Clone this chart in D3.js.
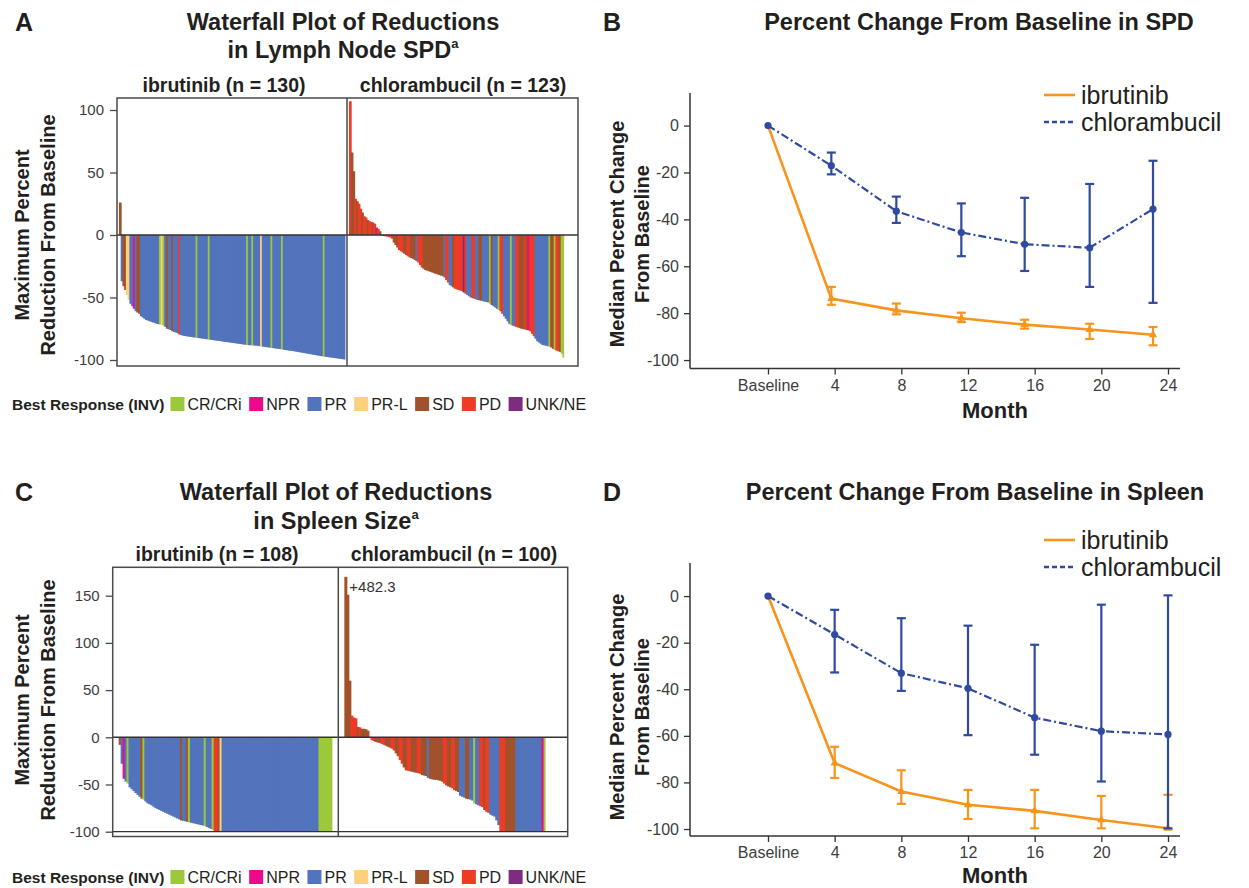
<!DOCTYPE html>
<html>
<head>
<meta charset="utf-8">
<script src="https://cdn.jsdelivr.net/npm/d3@7"></script>
<style>
  body { margin: 0; background: #ffffff; }
  svg { display: block; font-family: "Liberation Sans", Arial, Helvetica, sans-serif; }
</style>
</head>
<body>
<svg id="fig" width="1249" height="888"></svg>
<script>
// ---------------- Response categories ----------------
const responseKeys   = ["C", "N", "P", "L", "S", "D", "U"];
const responseLabels = ["CR/CRi", "NPR", "PR", "PR-L", "SD", "PD", "UNK/NE"];
const responseColors = ["#9cc83b", "#ec0a8b", "#5274bc", "#fdd07e", "#a1522a", "#ee3b25", "#7d2c80"];

// ---------------- Lymph node SPD, maximum % change (sorted) ----------------
const nodeIbrValues = [
  26,-37,-41,-44,-48,-52,-55,-57,-59,-61,
  -62,-63,-65,-66,-67,-68,-68.5,-69,-69.5,-70,
  -70.5,-71,-71.3,-71.6,-72,-72.5,-73.5,-75,-75.5,-76,
  -77,-77.5,-78,-78.5,-79.5,-80,-80.5,-80.8,-81,-81.2,
  -81.4,-81.6,-81.8,-82,-82.2,-82.4,-82.6,-82.8,-83,-83.2,
  -83.4,-83.6,-83.8,-84,-84.2,-84.4,-84.6,-84.8,-85,-85.2,
  -85.4,-85.6,-85.8,-86,-86.2,-86.4,-86.6,-86.8,-87,-87.2,
  -87.4,-87.6,-87.8,-88,-88.1,-88.2,-88.3,-88.4,-88.5,-88.7,
  -88.9,-89.1,-89.3,-89.5,-89.7,-89.9,-90.1,-90.3,-90.5,-90.7,
  -90.9,-91.1,-91.3,-91.5,-91.8,-92,-92.2,-92.4,-92.6,-92.8,
  -93,-93.3,-93.5,-93.8,-94,-94.3,-94.5,-94.8,-95,-95.3,
  -95.5,-95.8,-96,-96.3,-96.5,-96.8,-97,-97.2,-97.4,-97.6,
  -97.8,-98,-98.2,-98.4,-98.6,-98.8,-99,-99.2,-99.4,-99.6
];
const nodeIbrResponse = [
  "SPSSLLPPNP","SSPPPPPPPP","PPPCLCPSPP","SPPPDPPPPP","PPPPCPPPPP",
  "PCPPPPPPPP","PPPPPPPPPP","PPPCPPCPPP","PLPPPPPCPP","PPPCPPPPPP",
  "PPPPPPPPPP","PPPPPPPCPP","PPPPPPPPPP"
];

const nodeChlValues = [
  107,66,51,29,27,25,21,18,15,14,
  12,11,10.5,10,9,6,5,3,-0.5,-0.8,
  -1,-1.2,-1.5,-2,-3,-6,-8,-10,-12,-13,
  -14,-15,-16,-17,-18,-18.5,-19,-20,-21,-22,
  -24,-26,-27,-28,-28.5,-29,-29.5,-30,-30.5,-31,
  -31.5,-32,-32.5,-33,-34,-36,-38,-40,-41,-42,
  -43,-43.5,-44,-44.5,-45,-46,-47,-48,-49,-50,
  -50.5,-51,-51.5,-52,-52.3,-52.6,-53,-53.3,-53.6,-54,
  -55,-56,-57,-58,-59,-60,-61,-63,-65,-67,
  -69,-71,-72,-72.5,-73,-73.5,-74,-74.5,-75,-75.3,
  -75.6,-76,-76.3,-77,-79,-81,-83,-85,-86,-87,
  -88,-88.3,-88.6,-89,-89.3,-90,-91,-92,-92.5,-93,
  -93.5,-95,-98
];
const nodeChlResponse = [
  "DSSDSDDSDD","SDDSDNDSDD","DDDDDSSSDD","DSSDDSSSPD","DDSSSSSSSS",
  "SSSSPDDPPS","DDDDDUDPPP","DDPPSSPPPP","CSPPPCDDPP","PPCPPDDSSS",
  "DSNDDDPPPP","PPPPCSSCDD","SCC"
];

// ---------------- Spleen size, maximum % change (sorted) ----------------
const spleenIbrValues = [
  -8,-28,-44,-47,-49,-53,-55,-57,-59,-61,
  -63,-65,-66,-68,-70,-71,-72,-73.5,-75,-76,
  -77,-78,-79,-80,-81,-82,-83,-84,-85,-86,
  -87,-88,-88.5,-89,-89.5,-90,-90.5,-91,-91.5,-92,
  -92.5,-93,-93.5,-94,-95,-96,-97,-98,-100,-100,
  -100,-100,-100,-100,-100,-100,-100,-100,-100,-100,
  -100,-100,-100,-100,-100,-100,-100,-100,-100,-100,
  -100,-100,-100,-100,-100,-100,-100,-100,-100,-100,
  -100,-100,-100,-100,-100,-100,-100,-100,-100,-100,
  -100,-100,-100,-100,-100,-100,-100,-100,-100,-100,
  -100,-100,-100,-100,-100,-100,-100,-100
];
const spleenIbrResponse = [
  "SPNPCPPPPP","PSCPPPPPPP","PPPPPPPPPP","PSPPSCPPPP","PPPCPPPCDD",
  "SLPPPPPPPP","PPPPPPPPPP","PPPPPPPPPP","PPPPPPPPPP","PPPPPPPPPP",
  "PCCCCCCC"
];

const spleenChlValues = [
  482.3,151,60,23,21,20,11,10.5,9,9,
  8.5,7,0.5,-3,-4,-5,-5.5,-6,-7,-8,
  -9,-10,-11,-12,-14,-17,-20,-24,-28,-32,
  -35,-35.5,-36,-36.5,-37,-37.5,-38,-38.5,-40,-40.5,
  -41,-43,-44,-44.5,-45,-45,-45.5,-46,-47,-49,
  -51,-52,-53,-54,-56,-57,-58,-62,-63,-64,
  -65,-65.5,-66,-67,-70,-71,-72,-73,-74,-77,
  -79,-80,-82,-83,-84,-88,-93,-100,-100,-100,
  -100,-100,-100,-100,-100,-100,-100,-100,-100,-100,
  -100,-100,-100,-100,-100,-100,-100,-100,-100,-100
];
const spleenChlResponse = [
  "SSSDDDSDSS","SSDDDSSSDD","SSSDDSSDDS","SDDSSSDDSS","SPSSSSSSSD",
  "DSSDDSSPPP","SSPPCPPDDS","DDPPPPPDDD","SSSSSPPPPP","PPPPPPPPNC"
];

// ---------------- Median % change from baseline over time ----------------
const spdMonths     = [0, 3.8, 7.7, 11.6, 15.4, 19.3, 23.1];
const spdIbrMedian  = [0, -73.8, -78.8, -82.2, -84.9, -87.0, -89.2];
const spdIbrLow     = [0, -76.4, -80.5, -83.8, -86.6, -91.0, -93.7];
const spdIbrHigh    = [0, -68.8, -75.9, -79.8, -82.8, -84.5, -85.9];
const spdChlMedian  = [0, -17.1, -36.5, -45.6, -50.6, -52.1, -35.6];
const spdChlLow     = [0, -20.8, -41.5, -55.7, -62.0, -68.8, -75.6];
const spdChlHigh    = [0, -11.5, -30.3, -33.2, -30.8, -24.9, -15.0];

const spleenMonths    = [0, 4, 8, 12, 16, 20, 24];
const spleenIbrMedian = [0, -71.7, -83.9, -89.6, -92.2, -96.1, -99.7];
const spleenIbrLow    = [0, -78.1, -89.2, -95.7, -99.7, -99.7, -100];
const spleenIbrHigh   = [0, -64.7, -74.8, -83.2, -83.2, -85.8, -85.3];
const spleenChlMedian = [0, -16.5, -33.1, -39.6, -52.2, -58.0, -59.4];
const spleenChlLow    = [0, -32.8, -40.7, -59.7, -68.1, -79.6, -99.7];
const spleenChlHigh   = [0, -5.9, -9.5, -12.7, -20.9, -3.7, 0.3];

const monthTicks      = [0, 4, 8, 12, 16, 20, 24];
const monthTickLabels = ["Baseline", "4", "8", "12", "16", "20", "24"];
const changeTicks     = [0, -20, -40, -60, -80, -100];
const nodeTicks       = [100, 50, 0, -50, -100];
const spleenTicks     = [150, 100, 50, 0, -50, -100];

// ---------------- Styling ----------------
const INK = "#231f20";
const TICK_INK = "#3d3d3d";
const FRAME = "#4a4a4a";
const IBR_COLOR = "#f7941d";
const CHL_COLOR = "#2f4a9e";

const svg = d3.select("#fig");
const colorOf = d3.scaleOrdinal().domain(responseKeys).range(responseColors);

function text(x, y, str, opts = {}) {
  const t = svg.append("text")
    .attr("x", x).attr("y", y)
    .attr("fill", opts.fill || INK)
    .attr("font-size", opts.size || 15)
    .attr("font-weight", opts.bold ? "bold" : "normal")
    .attr("text-anchor", opts.anchor || "start")
    .text(str);
  if (opts.baseline) t.attr("dominant-baseline", opts.baseline);
  return t;
}

function panelLetter(letter, x, y) {
  text(x, y, letter, { size: 25, bold: true });
}

function panelTitle(lines, cx, y0, dy, supLast) {
  lines.forEach((ln, i) => {
    const t = text(cx, y0 + i * dy, ln, { size: 23.5, bold: true, anchor: "middle" });
    if (supLast && i === lines.length - 1) {
      t.append("tspan").attr("font-size", 13).attr("dy", -10).text(supLast);
    }
  });
}

function verticalTitle(lines, x0, gap, cy, size) {
  lines.forEach((ln, i) => {
    svg.append("text")
      .attr("transform", `translate(${x0 + i * gap},${cy}) rotate(-90)`)
      .attr("text-anchor", "middle")
      .attr("dominant-baseline", "central")
      .attr("font-size", size)
      .attr("font-weight", "bold")
      .attr("fill", INK)
      .text(ln);
  });
}

// ---------------- Waterfall panels ----------------
function waterfall(cfg) {
  const g = svg.append("g");
  const y = d3.scaleLinear().domain(cfg.yDomain).range([cfg.bottom, cfg.top]);
  const edges = [cfg.left, cfg.mid, cfg.right];

  cfg.arms.forEach((arm, k) => {
    const x = d3.scaleLinear().domain([0, cfg.units]).range([edges[k], edges[k + 1]]);
    const codes = arm.response.join("").split("");
    const bw = x(1) - x(0);
    const bars = arm.values.map((v, i) => ({ v, i, code: codes[i] || "P" }));
    // each bar overlaps the next by a pixel so adjacent bars read as one solid block
    g.append("g").selectAll("rect").data(bars).join("rect")
      .attr("x", d => x(d.i + cfg.offset))
      .attr("width", d => d.i === bars.length - 1 ? bw : bw + 1)
      .attr("y", d => y(Math.max(0, Math.min(d.v, cfg.cap))))
      .attr("height", d => Math.abs(y(Math.min(d.v, cfg.cap)) - y(0)))
      .attr("fill", d => colorOf(d.code));
    if (arm.note) {
      text(x(arm.note.index + cfg.offset) + bw + 3, y(cfg.cap) + 15, arm.note.label, { size: 15, fill: "#333" });
    }
    text(arm.titleX, cfg.top - 6, arm.title, { size: 19.5, bold: true, anchor: "middle" });
  });

  // reference lines and frame
  g.append("line").attr("x1", cfg.left).attr("x2", cfg.right)
    .attr("y1", y(0)).attr("y2", y(0)).attr("stroke", "#333").attr("stroke-width", 1.5);
  if (cfg.floorLine) {
    g.append("line").attr("x1", cfg.left).attr("x2", cfg.right)
      .attr("y1", y(-100)).attr("y2", y(-100)).attr("stroke", "#333").attr("stroke-width", 1.3);
  }
  g.append("line").attr("x1", cfg.mid).attr("x2", cfg.mid)
    .attr("y1", cfg.top).attr("y2", cfg.bottom).attr("stroke", FRAME).attr("stroke-width", 1.5);
  g.append("rect").attr("x", cfg.left).attr("y", cfg.top)
    .attr("width", cfg.right - cfg.left).attr("height", cfg.bottom - cfg.top)
    .attr("fill", "none").attr("stroke", FRAME).attr("stroke-width", 1.5);

  const ax = g.append("g").attr("transform", `translate(${cfg.left},0)`)
    .call(d3.axisLeft(y).tickValues(cfg.ticks).tickSize(7).tickPadding(6).tickFormat(d => String(d)));
  ax.select(".domain").remove();
  ax.selectAll("line").attr("stroke", FRAME).attr("stroke-width", 1.3);
  ax.selectAll("text").attr("font-size", 15).attr("fill", TICK_INK)
    .attr("font-family", '"Liberation Sans", Arial, sans-serif');
}

function responseLegend(x0, yc) {
  let x = x0;
  const lbl = text(x, yc, "Best Response (INV)", { size: 15.5, bold: true, baseline: "central" });
  x += lbl.node().getComputedTextLength() + 6;
  responseKeys.forEach((k, i) => {
    svg.append("rect").attr("x", x).attr("y", yc - 7).attr("width", 14).attr("height", 14)
      .attr("fill", responseColors[i]);
    x += 17;
    const t = text(x, yc, responseLabels[i], { size: 16, baseline: "central" });
    x += t.node().getComputedTextLength() + 7.5;
  });
}

// ---------------- Line panels ----------------
function lineChart(cfg) {
  const g = svg.append("g");
  const x = d3.scaleLinear().domain([-4.68, 24.72]).range([cfg.left, cfg.right]);
  const y = d3.scaleLinear().domain(cfg.yDomain).range([cfg.bottom, cfg.top]);

  // axes
  const ay = g.append("g").attr("transform", `translate(${cfg.left},0)`)
    .call(d3.axisLeft(y).tickValues(changeTicks).tickSize(6).tickPadding(5).tickFormat(d => String(d)));
  const ax = g.append("g").attr("transform", `translate(0,${cfg.bottom})`)
    .call(d3.axisBottom(x).tickValues(monthTicks).tickSize(6).tickPadding(5)
      .tickFormat((d, i) => monthTickLabels[i]));
  [ay, ax].forEach(a => {
    a.select(".domain").attr("stroke", "#333").attr("stroke-width", 1.5);
    a.selectAll("line").attr("stroke", "#333").attr("stroke-width", 1.3);
    a.selectAll("text").attr("font-size", 16).attr("fill", TICK_INK)
      .attr("font-family", '"Liberation Sans", Arial, sans-serif');
  });
  ay.select(".domain").attr("d", `M0,${cfg.top}V${cfg.bottom}`);
  ax.select(".domain").attr("d", `M${cfg.left},0H${cfg.right}`);
  text(995, cfg.monthY, "Month", { size: 22, bold: true, anchor: "middle" });

  const series = [
    { months: cfg.months, med: cfg.ibr[0], lo: cfg.ibr[1], hi: cfg.ibr[2], color: IBR_COLOR, dash: null, marker: "tri" },
    { months: cfg.months, med: cfg.chl[0], lo: cfg.chl[1], hi: cfg.chl[2], color: CHL_COLOR, dash: "8,3,2,3", marker: "dot" }
  ];
  series.forEach(s => {
    const pts = s.months.map((m, i) => ({ m, med: s.med[i], lo: s.lo[i], hi: s.hi[i], i }));
    g.append("path").datum(pts)
      .attr("d", d3.line().x(d => x(d.m)).y(d => y(d.med)))
      .attr("fill", "none").attr("stroke", s.color).attr("stroke-width", s.dash ? 2.2 : 2.6)
      .attr("stroke-dasharray", s.dash);
    const eb = g.append("g").selectAll("g").data(pts.filter(d => d.i > 0)).join("g")
      .attr("stroke", s.color).attr("stroke-width", 2.2);
    eb.append("line").attr("x1", d => x(d.m)).attr("x2", d => x(d.m))
      .attr("y1", d => y(d.hi)).attr("y2", d => y(d.lo));
    eb.append("line").attr("x1", d => x(d.m) - 4.5).attr("x2", d => x(d.m) + 4.5)
      .attr("y1", d => y(d.hi)).attr("y2", d => y(d.hi));
    eb.append("line").attr("x1", d => x(d.m) - 4.5).attr("x2", d => x(d.m) + 4.5)
      .attr("y1", d => y(d.lo)).attr("y2", d => y(d.lo));
    if (s.marker === "dot") {
      g.append("g").selectAll("circle").data(pts).join("circle")
        .attr("cx", d => x(d.m)).attr("cy", d => y(d.med)).attr("r", 3.6).attr("fill", s.color);
    } else {
      g.append("g").selectAll("path").data(pts.filter(d => d.i > 0)).join("path")
        .attr("transform", d => `translate(${x(d.m)},${y(d.med)})`)
        .attr("d", d3.symbol(d3.symbolTriangle, 30)).attr("fill", s.color);
    }
  });

  // legend
  const lx = cfg.legendX, ly = cfg.legendY;
  g.append("line").attr("x1", lx).attr("x2", lx + 31).attr("y1", ly).attr("y2", ly)
    .attr("stroke", IBR_COLOR).attr("stroke-width", 2.6);
  text(lx + 37, ly, "ibrutinib", { size: 25, baseline: "central" });
  g.append("line").attr("x1", lx).attr("x2", lx + 31).attr("y1", ly + 27).attr("y2", ly + 27)
    .attr("stroke", CHL_COLOR).attr("stroke-width", 2.4).attr("stroke-dasharray", "5,3");
  text(lx + 37, ly + 27, "chlorambucil", { size: 25, baseline: "central" });
}

// ================= Panel A =================
panelLetter("A", 15, 31);
panelTitle(["Waterfall Plot of Reductions", "in Lymph Node SPD"], 343, 30, 28, "a");
verticalTitle(["Maximum Percent", "Reduction From Baseline"], 22, 26, 235, 20);
waterfall({
  left: 117, mid: 347, right: 578, top: 98, bottom: 366,
  yDomain: [-104.8, 109.6], ticks: nodeTicks, units: 132, offset: 1.1, cap: 200,
  arms: [
    { title: "ibrutinib (n = 130)", titleX: 224, values: nodeIbrValues, response: nodeIbrResponse },
    { title: "chlorambucil  (n = 123)", titleX: 463, values: nodeChlValues, response: nodeChlResponse }
  ]
});
responseLegend(12, 404);

// ================= Panel B =================
panelLetter("B", 603, 31);
text(979, 30, "Percent Change From Baseline in SPD", { size: 23.5, bold: true, anchor: "middle" });
verticalTitle(["Median Percent Change", "From Baseline"], 617, 25, 234, 20);
lineChart({
  left: 690, right: 1180, top: 93, bottom: 368.5, yDomain: [-103.6, 13.9],
  months: spdMonths, monthY: 418,
  ibr: [spdIbrMedian, spdIbrLow, spdIbrHigh],
  chl: [spdChlMedian, spdChlLow, spdChlHigh],
  legendX: 1044, legendY: 95
});

// ================= Panel C =================
panelLetter("C", 15, 501);
panelTitle(["Waterfall Plot of Reductions", "in Spleen Size"], 336, 500, 29, "a");
verticalTitle(["Maximum Percent", "Reduction From Baseline"], 22, 26, 700, 20);
waterfall({
  left: 112.7, mid: 338.3, right: 567.7, top: 567.3, bottom: 836.5,
  yDomain: [-105.1, 180.1], ticks: spleenTicks, units: 114, offset: 3, cap: 170, floorLine: true,
  arms: [
    { title: "ibrutinib (n = 108)", titleX: 217, values: spleenIbrValues, response: spleenIbrResponse },
    { title: "chlorambucil  (n = 100)", titleX: 454, values: spleenChlValues, response: spleenChlResponse,
      note: { index: 0, label: "+482.3" } }
  ]
});
responseLegend(12, 877);

// ================= Panel D =================
panelLetter("D", 603, 501);
text(975, 500, "Percent Change From Baseline in Spleen", { size: 23.5, bold: true, anchor: "middle" });
verticalTitle(["Median Percent Change", "From Baseline"], 617, 25, 707, 20);
lineChart({
  left: 690, right: 1180, top: 563, bottom: 836, yDomain: [-103, 14.2],
  months: spleenMonths, monthY: 883,
  ibr: [spleenIbrMedian, spleenIbrLow, spleenIbrHigh],
  chl: [spleenChlMedian, spleenChlLow, spleenChlHigh],
  legendX: 1044, legendY: 540
});
</script>
</body>
</html>
